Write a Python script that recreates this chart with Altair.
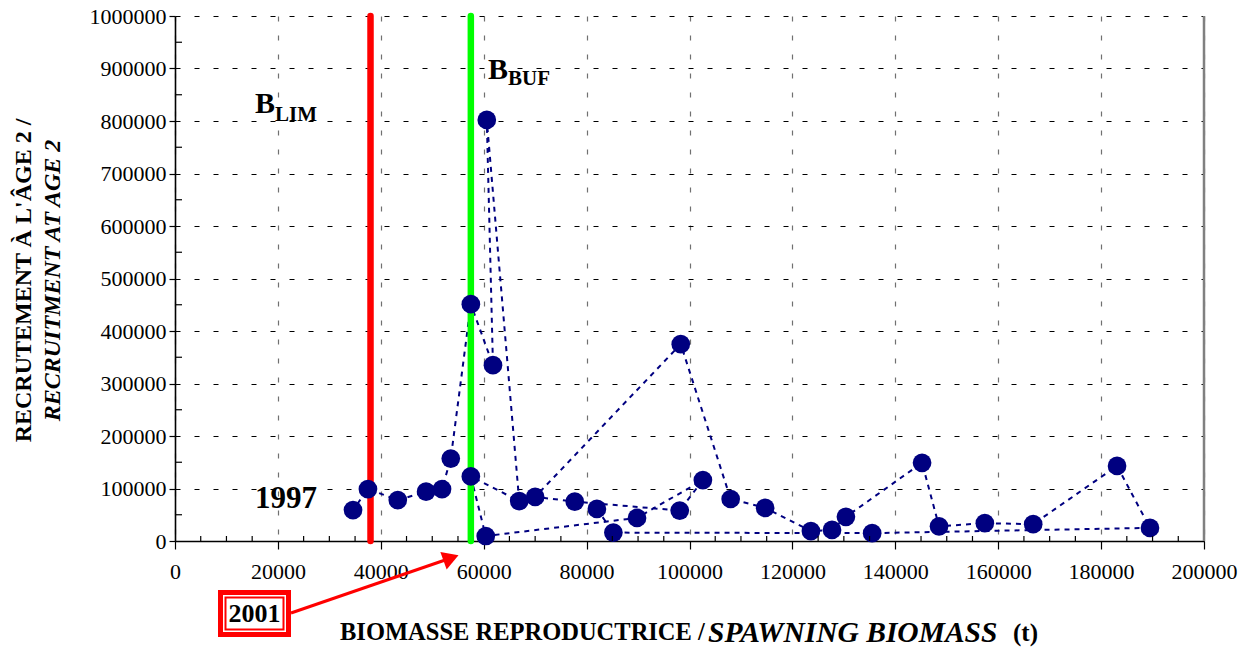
import altair as alt
import pandas as pd

# ---- data ----
biomass = [82000, 85200, 135500, 189500, 183100, 166800, 157400, 148500, 145200, 130400,
           127700, 123600, 114700, 108000, 98300, 70000, 77700, 98100, 102600, 89800,
           60400, 57500, 66900, 60600, 61800, 57500, 53600, 51900, 48800, 43300, 37500, 34600]
recruit = [61000, 16000, 15000, 25000, 143000, 32000, 34000, 28000, 149000, 46000,
           21000, 19000, 63000, 80000, 375000, 84000, 75000, 58000, 116000, 44000,
           9500, 123000, 76000, 802000, 335000, 451000, 157000, 99000, 94000, 78000, 99000, 59000]
seq = list(range(len(biomass)))

x_ticks = list(range(0, 200001, 20000))
y_ticks = list(range(0, 1000001, 100000))
x_minor = [v for v in range(5000, 200000, 5000) if v % 20000 != 0]
y_minor = list(range(50000, 1000000, 100000))
ref_values = [38000, 57500]
ref_colors = ["#ff0000", "#00ff00"]

W, H = 1029, 525
FONT = "Liberation Serif"
NAVY = "#000080"

df = pd.DataFrame({"seq": seq, "biomass": biomass, "recruit": recruit})
ref_df = pd.DataFrame({"ref": ref_values, "col": ref_colors})
xm_df = pd.DataFrame({"mx": x_minor})
ym_df = pd.DataFrame({"my": y_minor})
one = pd.DataFrame({"k": [0]})

xscale = alt.Scale(domain=[0, 200000], nice=False)
yscale = alt.Scale(domain=[0, 1000000], nice=False)

xaxis = alt.Axis(values=x_ticks, format="d", title=None, grid=True, gridDash=[5, 14],
                 gridColor="#707070", gridWidth=1.2, domainColor="black", domainWidth=1.6,
                 tickColor="black", tickSize=8, tickWidth=1.2, labelFont=FONT, labelFontSize=22,
                 labelColor="black", labelPadding=12, labelFlush=False, labelOverlap=False)
yaxis = alt.Axis(values=y_ticks, format="d", title=None, grid=True, gridDash=[5, 14],
                 gridColor="#000000", gridWidth=1.2, domainColor="black", domainWidth=1.6,
                 tickColor="black", tickSize=6, tickWidth=1.2, labelFont=FONT, labelFontSize=22,
                 labelColor="black", labelPadding=3, labelFlush=False, labelOverlap=False)

X = lambda f: alt.X(f, scale=xscale, axis=xaxis)
Y = lambda f: alt.Y(f, scale=yscale, axis=yaxis)

series_line = alt.Chart(df).mark_line(color=NAVY, strokeWidth=2, strokeDash=[5, 5]).encode(
    x=X("biomass:Q"), y=Y("recruit:Q"), order="seq:Q")

ref_lines = alt.Chart(ref_df).mark_rule(strokeWidth=6.5, strokeCap="round").encode(
    x=X("ref:Q"), y=alt.value(0), y2=alt.value(H),
    color=alt.Color("col:N", scale=None, legend=None))

points = alt.Chart(df).mark_circle(size=350, color=NAVY, opacity=1).encode(
    x=X("biomass:Q"), y=Y("recruit:Q"))

x_minor_ticks = alt.Chart(xm_df).mark_rule(color="black", strokeWidth=1.2).encode(
    x=X("mx:Q"), y=alt.value(H - 5), y2=alt.value(H))
y_minor_ticks = alt.Chart(ym_df).mark_rule(color="black", strokeWidth=1.2).encode(
    y=Y("my:Q"), x=alt.value(0), x2=alt.value(7))

right_border = alt.Chart(one).mark_rule(color="#808080", strokeWidth=2.5).encode(
    x=alt.value(W), y=alt.value(0), y2=alt.value(H))


def txt(text, x, y, size, bold=True, italic=False, align="left", baseline="alphabetic",
        angle=0, color="black"):
    kw = dict(text=text, font=FONT, fontSize=size, fontWeight="bold" if bold else "normal",
              fontStyle="italic" if italic else "normal", align=align, baseline=baseline,
              color=color)
    if angle:
        kw["angle"] = angle
    return alt.Chart(one).mark_text(**kw).encode(x=alt.value(x), y=alt.value(y))


def box(x1, x2, y1, y2, color):
    return alt.Chart(one).mark_rect(color=color, opacity=1).encode(
        x=alt.value(x1), x2=alt.value(x2), y=alt.value(y1), y2=alt.value(y2))


annotations = [
    txt("B", 80, 97, 30),
    txt("LIM", 100, 105, 21),
    txt("B", 313, 63, 30),
    txt("BUF", 333, 69, 21),
    txt("1997", 80, 492, 31),
    # x title
    txt("BIOMASSE REPRODUCTRICE /", 165, 617, 24.5, baseline="middle"),
    txt("SPAWNING BIOMASS", 533, 617, 29.5, italic=True, baseline="middle"),
    txt("(t)", 838, 617, 25, baseline="middle"),
    # y title
    txt("RECRUTEMENT À L'ÂGE 2 /", -151, H / 2 + 2, 24, align="center", baseline="middle", angle=270),
    txt("RECRUITMENT AT AGE 2", -122, H / 2 + 2, 24, italic=True, align="center", baseline="middle", angle=270),
]

# 2001 box and arrow
frame = [
    box(43, 116, 574, 621, "#ff0000"),
    box(48, 111, 579, 616, "#ffffff"),
    box(49.5, 109.5, 580.5, 614.5, "#ff0000"),
    box(51.5, 107.5, 582.5, 612.5, "#ffffff"),
    txt("2001", 79.5, 598, 26, align="center", baseline="middle"),
]
arrow_line = alt.Chart(one).mark_rule(color="#ff0000", strokeWidth=3).encode(
    x=alt.value(116), y=alt.value(597), x2=alt.value(276), y2=alt.value(542))
arrow_head = alt.Chart(one).mark_point(shape="triangle-up", filled=True, size=340, angle=70,
                                       color="#ff0000", opacity=1).encode(
    x=alt.value(276), y=alt.value(542))

chart = alt.layer(
    series_line, ref_lines, points, x_minor_ticks, y_minor_ticks, right_border,
    *annotations, *frame, arrow_line, arrow_head
).properties(
    width=W, height=H,
    padding={"left": 175, "top": 16, "right": 47, "bottom": 108},
    autosize=alt.AutoSizeParams(type="none"),
    background="white",
).configure_view(stroke=None)

chart.save("out.html", embed_options={"renderer": "svg", "actions": False})
